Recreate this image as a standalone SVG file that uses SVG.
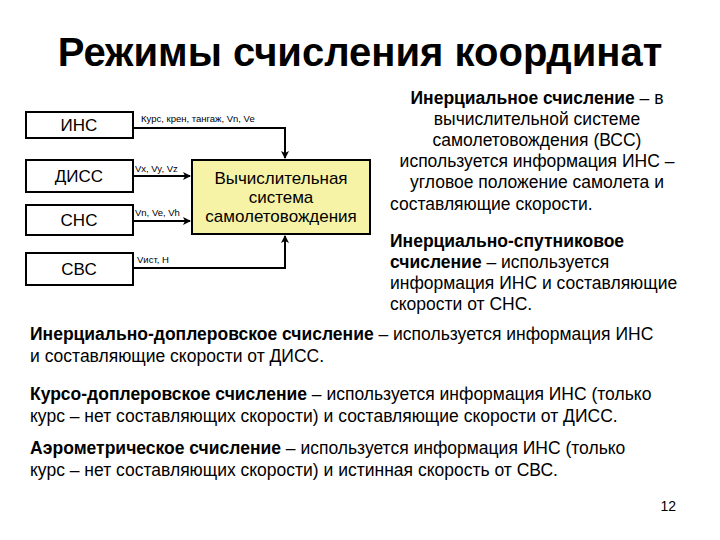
<svg xmlns="http://www.w3.org/2000/svg" width="720" height="540" viewBox="0 0 720 540">
<style>
.box{fill:#fff;stroke:#000;stroke-width:2}
.t{font-family:"Liberation Sans",Arial,sans-serif;fill:#000}
.n{font-size:17px;text-anchor:middle}
.s{font-size:9.5px}
.p{font-size:17.5px}
.c{fill:none;stroke:#000;stroke-width:2}
</style>
<defs><marker id="a" markerWidth="8" markerHeight="8" refX="7" refY="4" orient="auto" markerUnits="userSpaceOnUse"><path d="M0,0 L8,4 L0,8 L2,4 z" fill="#000"/></marker></defs>
<rect width="720" height="540" fill="#fff"/>
<text class="t" x="360" y="66" font-size="40" font-weight="bold" text-anchor="middle">Режимы счисления координат</text>
<g id="ins"><rect class="box" x="26" y="112" width="107" height="26"/><text class="t n" x="79" y="131">ИНС</text></g>
<g id="diss"><rect class="box" x="26" y="160" width="107" height="32"/><text class="t n" x="79" y="182">ДИСС</text></g>
<g id="sns"><rect class="box" x="26" y="205" width="107" height="30"/><text class="t n" x="79" y="226">СНС</text></g>
<g id="svs"><rect class="box" x="26" y="253" width="107" height="32"/><text class="t n" x="79" y="275">СВС</text></g>
<g id="vss"><rect x="192" y="160" width="178" height="74" fill="#f7f3a6" stroke="#000" stroke-width="2"/>
<text class="t n" x="281" y="184">Вычислительная</text><text class="t n" x="281" y="203">система</text><text class="t n" x="281" y="222">самолетовождения</text></g>
<g id="connectors">
<path class="c" d="M133,128 H285 V158" marker-end="url(#a)"/>
<path class="c" d="M133,176 H190" marker-end="url(#a)"/>
<path class="c" d="M133,221 H190" marker-end="url(#a)"/>
<path class="c" d="M133,268 H285 V236" marker-end="url(#a)"/>
<text class="t s" x="141" y="122">Курс, крен, тангаж, Vn, Ve</text>
<text class="t s" x="135" y="172">Vx, Vy, Vz</text>
<text class="t s" x="135" y="216">Vn, Ve, Vh</text>
<text class="t s" x="137" y="263">Vист, H</text>
</g>
<g class="t p" text-anchor="middle">
<text x="537" y="104"><tspan font-weight="bold">Инерциальное счисление</tspan> – в</text>
<text x="537" y="125">вычислительной системе</text>
<text x="537" y="146">самолетовождения (ВСС)</text>
<text x="537" y="167">используется информация ИНС –</text>
<text x="537" y="188">угловое положение самолета и</text>
<text x="390" y="210" text-anchor="start">составляющие скорости.</text>
<text x="390" y="247" text-anchor="start" font-weight="bold">Инерциально-спутниковое</text>
<text x="390" y="268" text-anchor="start"><tspan font-weight="bold">счисление</tspan> – используется</text>
<text x="390" y="289" text-anchor="start">информация ИНС и составляющие</text>
<text x="390" y="310" text-anchor="start">скорости от СНС.</text>
</g>
<g class="t p">
<text x="30" y="340"><tspan font-weight="bold">Инерциально-доплеровское счисление</tspan> – используется информация ИНС</text>
<text x="30" y="362">и составляющие скорости от ДИСС.</text>
<text x="30" y="400"><tspan font-weight="bold">Курсо-доплеровское счисление</tspan> – используется информация ИНС (только</text>
<text x="30" y="422">курс – нет составляющих скорости) и составляющие скорости от ДИСС.</text>
<text x="30" y="454"><tspan font-weight="bold">Аэрометрическое счисление</tspan> – используется информация ИНС (только</text>
<text x="30" y="476">курс – нет составляющих скорости) и истинная скорость от СВС.</text>
</g>
<text class="t" x="676" y="511" font-size="14" text-anchor="end">12</text>
</svg>
